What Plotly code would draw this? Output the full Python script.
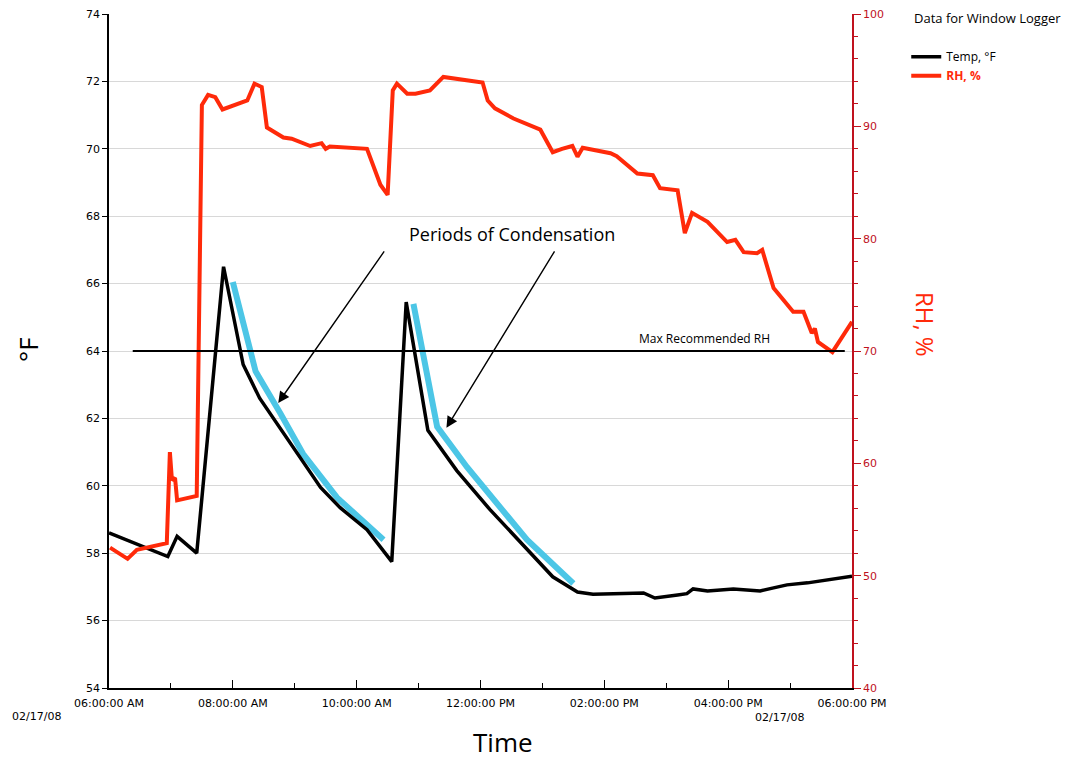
import plotly.graph_objects as go

DAY = "2008-02-17 "

# Temperature (°F)
temp_times = ["06:00", "06:57", "07:06", "07:25", "07:51", "08:10", "08:26", "08:46", "09:05",
              "09:25", "09:44", "10:10", "10:34", "10:48", "11:09", "11:37", "12:09", "12:45",
              "13:10", "13:34", "13:49", "14:38", "14:49", "15:11", "15:20", "15:26", "15:40",
              "16:05", "16:31", "16:44", "16:57", "17:17", "17:36", "18:00"]
temp_vals = [58.6, 57.9, 58.5, 58.0, 66.5, 63.6, 62.6, 61.7, 60.85,
             59.95, 59.35, 58.7, 57.75, 65.45, 61.65, 60.45, 59.3, 58.1,
             57.3, 56.85, 56.78, 56.82, 56.67, 56.76, 56.8, 56.94, 56.88,
             56.94, 56.88, 56.97, 57.06, 57.12, 57.2, 57.32]

# Relative humidity (%)
rh_times = ["06:01", "06:18", "06:27", "06:56", "06:59", "07:01", "07:04", "07:06", "07:25",
            "07:30", "07:36", "07:43", "07:50", "08:14", "08:21", "08:28", "08:33", "08:49",
            "08:57", "09:15", "09:26", "09:30", "09:34", "10:10", "10:23", "10:30", "10:35",
            "10:39", "10:49", "10:57", "11:11", "11:24", "12:02", "12:07", "12:14", "12:32",
            "12:58", "13:10", "13:19", "13:29", "13:34", "13:39", "14:06", "14:12", "14:32",
            "14:47", "14:54", "15:11", "15:18", "15:25", "15:40", "15:59", "16:07", "16:15",
            "16:28", "16:33", "16:44", "17:03", "17:13", "17:21", "17:24", "17:27", "17:41",
            "17:49", "18:00"]
rh_vals = [52.5, 51.5, 52.3, 52.9, 61.0, 58.5, 58.7, 56.7, 57.1,
           91.9, 92.8, 92.6, 91.5, 92.3, 93.8, 93.5, 89.9, 89.0,
           88.9, 88.25, 88.5, 88.0, 88.2, 88.0, 84.8, 83.9, 93.2,
           93.8, 92.9, 92.9, 93.2, 94.4, 93.9, 92.3, 91.6, 90.7,
           89.7, 87.7, 88.0, 88.25, 87.3, 88.1, 87.6, 87.35, 85.8,
           85.65, 84.5, 84.3, 80.5, 82.3, 81.5, 79.7, 79.9, 78.8,
           78.7, 79.0, 75.6, 73.5, 73.5, 71.6, 72.0, 70.8, 69.9,
           71.1, 72.6]

# Condensation highlight segments (°F)
cond1_times = ["08:00", "08:22", "08:46", "09:08", "09:41", "10:26"]
cond1_vals = [66.05, 63.4, 62.15, 60.95, 59.65, 58.4]
cond2_times = ["10:55", "11:18", "11:47", "12:12", "12:45", "13:30"]
cond2_vals = [65.4, 61.75, 60.55, 59.6, 58.4, 57.1]

# Max recommended RH line
maxrh_times = ["06:23", "17:53"]
maxrh_vals = [70, 70]

def ts(lst):
    return [DAY + t for t in lst]

RED = "#FF2A0A"
AXRED = "#C0121E"
BLUE = "#4CC6E6"
FONT = "Open Sans"

fig = go.Figure()

fig.add_trace(go.Scatter(x=ts(cond1_times), y=cond1_vals, mode="lines",
                         line=dict(color=BLUE, width=6), showlegend=False, yaxis="y"))
fig.add_trace(go.Scatter(x=ts(cond2_times), y=cond2_vals, mode="lines",
                         line=dict(color=BLUE, width=6), showlegend=False, yaxis="y"))
fig.add_trace(go.Scatter(x=ts(temp_times), y=temp_vals, mode="lines", name="Temp, °F",
                         line=dict(color="black", width=3.5), yaxis="y"))
fig.add_trace(go.Scatter(x=ts(rh_times), y=rh_vals, mode="lines",
                         name="<b><span style='color:%s'>RH, %%</span></b>" % RED,
                         line=dict(color=RED, width=4), yaxis="y2"))
fig.add_trace(go.Scatter(x=ts(maxrh_times), y=maxrh_vals, mode="lines",
                         line=dict(color="black", width=2), showlegend=False, yaxis="y2"))

# page body adds an 8px offset, so margins are shifted by 8px
fig.update_layout(
    width=1076, height=759,
    margin=dict(l=101, r=232, t=6, b=79, autoexpand=False),
    paper_bgcolor="white", plot_bgcolor="white",
    font=dict(family=FONT, size=11, color="black"),
    xaxis=dict(type="date", range=[DAY + "06:00", DAY + "18:00"],
               dtick=7200000, tick0=DAY + "06:00", tickformat="%I:%M:%S %p",
               showgrid=False, showline=True, linecolor="black", linewidth=1.5,
               ticks="inside", ticklen=8, tickcolor="black", ticklabelstandoff=4,
               ticklabeloverflow="allow",
               minor=dict(dtick=3600000, ticks="inside", ticklen=5, tickcolor="black"),
               tickfont=dict(family="DejaVu Sans", size=11), zeroline=False),
    yaxis=dict(range=[54, 74], dtick=2, showgrid=True, gridcolor="#D8D8D8", gridwidth=1,
               showline=True, linecolor="black", linewidth=1.5, ticks="outside",
               ticklen=5, tickcolor="black", zeroline=False, ticklabeloverflow="allow",
               tickfont=dict(family="DejaVu Sans", size=11)),
    yaxis2=dict(range=[40, 100], dtick=10, overlaying="y", side="right", showgrid=False,
                showline=True, linecolor=AXRED, linewidth=1.5, ticks="outside", ticklen=7,
                tickcolor=AXRED, zeroline=False, ticklabeloverflow="allow",
                tickfont=dict(family="DejaVu Sans", size=11, color=AXRED),
                minor=dict(dtick=2, ticks="outside", ticklen=4, tickcolor=AXRED)),
    legend=dict(x=1.073, y=0.958, xanchor="left", yanchor="top",
                font=dict(family=FONT, size=12, color="black"),
                bgcolor="rgba(0,0,0,0)", tracegroupgap=0, itemwidth=30),
)

ann = [
    dict(text="Data for Window Logger", x=1.081, y=0.994, xref="paper", yref="paper",
         xanchor="left", yanchor="middle", showarrow=False, font=dict(size=13, family=FONT)),
    dict(text="°F", x=-0.109, y=0.5015, xref="paper", yref="paper", textangle=-90,
         xanchor="center", yanchor="middle",
         showarrow=False, font=dict(size=26, family=FONT)),
    dict(text="RH, %", x=1.098, y=0.539, xref="paper", yref="paper", textangle=90,
         xanchor="center", yanchor="middle",
         showarrow=False, font=dict(size=24, family=FONT, color=RED)),
    dict(text="Time", x=0.530, y=-0.080, xref="paper", yref="paper",
         xanchor="center", yanchor="middle",
         showarrow=False, font=dict(size=26, family=FONT)),
    dict(text="02/17/08", x=-0.098, y=-0.043, xref="paper", yref="paper",
         xanchor="center", yanchor="middle",
         showarrow=False, font=dict(size=11, family="DejaVu Sans")),
    dict(text="02/17/08", x=0.902, y=-0.044, xref="paper", yref="paper",
         xanchor="center", yanchor="middle",
         showarrow=False, font=dict(size=11, family="DejaVu Sans")),
    dict(text="Max Recommended RH", x=DAY + "15:37", y=64.05, xref="x", yref="y",
         xanchor="center", yanchor="bottom", showarrow=False, font=dict(size=12, family=FONT)),
    dict(text="Periods of Condensation", x=DAY + "12:31", y=67.47, xref="x", yref="y",
         xanchor="center", yanchor="middle",
         showarrow=False, font=dict(size=18, family=FONT)),
    dict(text="", x=DAY + "08:44", y=62.46, xref="x", yref="y", showarrow=True,
         ax=107, ay=-153, arrowhead=2, arrowsize=1.6, arrowwidth=1.4, arrowcolor="black"),
    dict(text="", x=DAY + "11:27", y=61.72, xref="x", yref="y", showarrow=True,
         ax=109, ay=-178, arrowhead=2, arrowsize=1.6, arrowwidth=1.4, arrowcolor="black"),
]
fig.update_layout(annotations=ann)

fig.write_html("out.html")
